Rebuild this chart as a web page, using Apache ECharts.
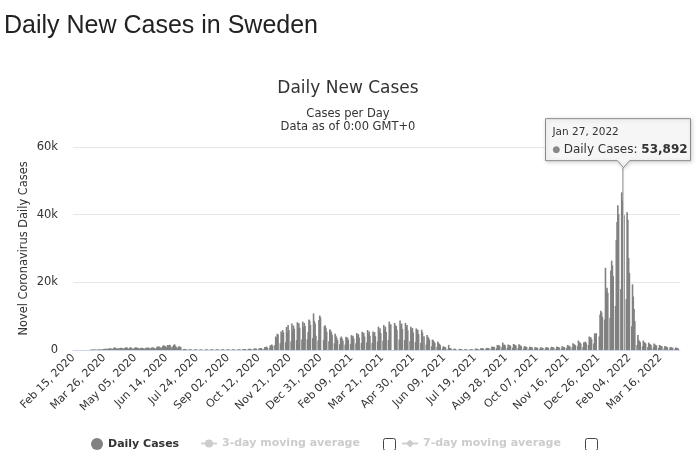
<!DOCTYPE html>
<html>
<head>
<meta charset="utf-8">
<script src="https://cdn.jsdelivr.net/npm/echarts@6/dist/echarts.min.js"></script>
<style>
html,body{margin:0;padding:0;background:#fff;}
#c{width:696px;height:450px;}
</style>
</head>
<body>
<div id="c"></div>
<script>
// Daily new cases, one row per week, each row = [Sat, Sun, Mon, Tue, Wed, Thu, Fri]
// first row starts Saturday Feb 15, 2020
const weeksStarting2020 = [
  [0,0,0,0,0,0,0],
  [0,0,0,0,1,1,5],
  [0,2,1,1,15,11,17],
  [25,66,42,45,123,181,120],
  [64,115,56,98,81,148,170],
  [160,100,106,224,308,290,366],
  [390,278,328,401,426,511,370],
  [450,312,376,487,726,722,544],
  [466,332,465,497,482,613,676],
  [606,392,386,544,680,751,812],
  [610,401,286,695,790,681,428],
  [404,235,562,705,790,676,642],
  [603,292,373,602,685,625,562],
  [460,286,449,658,637,644,774],
  [572,401,339,638,778,541,737],
  [493,326,475,773,1074,893,1056],
  [878,442,590,909,1239,1379,1211],
  [1144,577,821,1474,1239,1441,1540],
  [1034,452,686,1108,1481,1698,1235],
  [932,329,522,1018,926,1017,888],
  [0,0,180,280,320,260,220],
  [0,0,90,210,180,160,150],
  [0,0,70,160,150,130,120],
  [0,0,60,140,150,120,110],
  [0,0,60,150,160,140,130],
  [0,0,70,170,160,150,140],
  [0,0,70,160,150,170,140],
  [0,0,60,150,140,160,130],
  [0,0,60,140,130,150,120],
  [0,0,60,150,140,160,130],
  [0,0,70,170,160,180,150],
  [0,0,120,300,280,320,260],
  [0,0,140,350,330,380,300],
  [0,0,170,420,400,450,380],
  [0,0,220,550,500,600,480],
  [0,0,360,900,850,1000,800],
  [0,0,560,1400,1300,1600,1200],
  [0,0,1500,4000,3600,4800,4600],
  [0,0,2000,5500,4400,5900,5200],
  [0,0,2300,6800,5200,7400,5900],
  [0,0,2600,7800,5800,7200,6300],
  [0,0,2900,8200,6400,7900,6600],
  [0,0,3100,8400,6800,8000,7100],
  [0,0,3200,5300,9000,8700,7400],
  [0,0,3500,10800,8600,7800,4200],
  [0,0,2800,8900,10200,9600,0]
];
const weeksStarting2021 = [
  [0,0,3000,7000,7300,6600,5400],
  [0,0,2600,6100,5800,5300,4500],
  [0,0,2000,4800,4200,3600,2900],
  [0,0,1700,3600,4000,3300,2700],
  [0,0,1600,3900,3500,3700,3000],
  [0,0,1800,4400,3900,4200,3400],
  [0,0,2000,5000,4300,4700,3700],
  [0,0,2100,5400,4600,5100,4000],
  [0,0,2200,5900,4800,5500,4200],
  [0,0,2100,5500,4700,5300,4100],
  [0,0,2500,6900,5600,6400,5000],
  [0,0,2700,7400,6100,6900,5300],
  [0,0,3000,8400,6600,7600,0],
  [0,0,0,8000,7300,7100,6000],
  [0,0,3100,8700,7200,7800,6200],
  [0,0,2900,8000,6800,7400,5800],
  [0,0,2600,6900,6100,6500,5200],
  [0,0,2400,6400,5600,6000,4700],
  [0,0,2100,6000,5200,0,4100],
  [0,0,1600,4400,3900,3600,3000],
  [0,0,1100,3100,2800,2500,2100],
  [0,0,900,2500,2000,1800,1400],
  [0,0,450,1100,950,850,700],
  [0,0,250,1500,600,550,450],
  [0,0,150,400,350,300,0],
  [0,0,120,350,300,280,250],
  [0,0,80,200,180,170,150],
  [0,0,90,220,200,180,160],
  [0,0,160,420,380,350,300],
  [0,0,240,600,520,480,420],
  [0,0,260,650,560,600,500],
  [0,0,400,1000,900,950,850],
  [0,0,600,1500,1300,1400,1200],
  [0,0,800,2200,1500,1600,1400],
  [0,0,650,1600,1500,1400,1200],
  [0,0,700,1800,1600,1500,1300],
  [0,0,650,1700,1400,1300,1100],
  [0,0,450,1100,1000,950,850],
  [0,0,400,1000,900,850,750],
  [0,0,340,850,750,700,650],
  [0,0,320,800,700,700,600],
  [0,0,340,850,750,700,650],
  [0,0,380,950,850,800,700],
  [0,0,400,1000,900,850,750],
  [0,0,440,1100,950,900,800],
  [0,0,600,1500,1300,1200,1000],
  [0,0,800,2000,1700,1600,1400],
  [0,0,1100,2800,2300,2200,1900],
  [0,0,900,2300,2200,2500,2000],
  [0,0,1500,4000,3500,3800,3200],
  [0,0,1900,4900,4600,5000,0],
  [0,0,4000,10500,11600,11100,9800]
];
const weeksStarting2022 = [
  [0,0,9000,24300,17600,18400,16900],
  [0,0,9500,23500,26400,25000,21800],
  [0,0,13000,32500,37800,42800,40100],
  [0,0,18000,46600,44200,53892,39800],
  [0,0,15000,40700,38500,27200,22800],
  [0,0,7000,19400,15800,12100,8600],
  [0,0,1500,4400,3000,2600,2300],
  [0,0,1100,2800,2300,2200,1900],
  [0,0,900,2200,1800,1700,1500],
  [0,0,750,1900,1600,1500,1300],
  [0,0,600,1500,1300,1200,1100],
  [0,0,480,1200,1000,950,850],
  [0,0,360,900,800,750,650],
  [0,0,300,750,650,600,550],
  [0,0]
];
const yTickValues = [0, 20000, 40000, 60000];
const tooltipDate = 'Jan 27, 2022';
const legendNames = ['Daily Cases', '3-day moving average', '7-day moving average'];

const dailyCases = [].concat(...weeksStarting2020, ...weeksStarting2021, ...weeksStarting2022);

const MONTHS = ['Jan','Feb','Mar','Apr','May','Jun','Jul','Aug','Sep','Oct','Nov','Dec'];
const categories = [];
(function(){
  const d = new Date(Date.UTC(2020, 1, 15));
  for (let i = 0; i < dailyCases.length; i++) {
    categories.push(MONTHS[d.getUTCMonth()] + ' ' + String(d.getUTCDate()).padStart(2,'0') + ', ' + d.getUTCFullYear());
    d.setUTCDate(d.getUTCDate() + 1);
  }
})();

const FONT = "'DejaVu Sans', sans-serif";
const GRID = {left: 73, right: 16, top: 147, bottom: 100};

const chart = echarts.init(document.getElementById('c'), null, {renderer: 'canvas'});
const option = {
  animation: false,
  backgroundColor: '#ffffff',
  title: [
    {text: 'Daily New Cases in Sweden', left: 4, top: 14, padding: 0,
     textStyle: {fontFamily: "'Liberation Sans', Arial, sans-serif", fontSize: 25, fontWeight: 'normal', color: '#222'}},
    {text: 'Daily New Cases', left: 'center', top: 80, padding: 0,
     textStyle: {fontFamily: FONT, fontSize: 17, fontWeight: 'normal', color: '#333'}},
    {text: 'Cases per Day', left: 'center', top: 108, padding: 0,
     textStyle: {fontFamily: FONT, fontSize: 11.5, fontWeight: 'normal', color: '#333'}},
    {text: 'Data as of 0:00 GMT+0', left: 'center', top: 121.5, padding: 0,
     textStyle: {fontFamily: FONT, fontSize: 11.5, fontWeight: 'normal', color: '#333'}}
  ],
  legend: [
    {data: [{name: legendNames[0], icon: 'circle'}], left: 91, top: 438, padding: 0,
     itemWidth: 12, itemHeight: 12, selectedMode: false,
     textStyle: {fontFamily: FONT, fontSize: 11, fontWeight: 'bold', color: '#333'}},
    {data: [legendNames[1]], left: 200, top: 438, padding: 0, itemWidth: 16, itemHeight: 10,
     inactiveColor: '#ccc', inactiveBorderColor: '#ccc',
     selected: {'3-day moving average': false, '7-day moving average': false},
     textStyle: {fontFamily: FONT, fontSize: 11, fontWeight: 'bold', color: '#333'}},
    {data: [legendNames[2]], left: 401, top: 438, padding: 0, itemWidth: 16, itemHeight: 10,
     inactiveColor: '#ccc', inactiveBorderColor: '#ccc',
     selected: {'3-day moving average': false, '7-day moving average': false},
     textStyle: {fontFamily: FONT, fontSize: 11, fontWeight: 'bold', color: '#333'}}
  ],
  grid: Object.assign({containLabel: false, outerBoundsMode: 'none'}, GRID),
  xAxis: {
    type: 'category',
    data: categories,
    boundaryGap: true,
    axisLine: {show: true, lineStyle: {color: '#ccd6eb', width: 1}},
    axisTick: {show: false},
    axisLabel: {interval: 39, rotate: 45, margin: 6, fontFamily: FONT, fontSize: 11, color: '#333'},
    splitLine: {show: false}
  },
  yAxis: {
    type: 'value',
    min: yTickValues[0],
    max: yTickValues[yTickValues.length - 1],
    interval: yTickValues[1] - yTickValues[0],
    name: 'Novel Coronavirus Daily Cases',
    nameLocation: 'middle',
    nameGap: 43,
    nameMoveOverlap: false,
    nameTextStyle: {fontFamily: FONT, fontSize: 11.4, color: '#333'},
    axisLine: {show: false},
    axisTick: {show: false},
    axisLabel: {margin: 15, fontFamily: FONT, fontSize: 11.5, color: '#333',
      formatter: v => v === 0 ? '0' : (v / 1000) + 'k'},
    splitLine: {show: true, lineStyle: {color: '#e6e6e6', width: 1}}
  },
  series: [
    {name: legendNames[0], type: 'bar', data: dailyCases, barWidth: 1.6,
     itemStyle: {color: '#818181'}, silent: true, emphasis: {disabled: true}},
    {name: legendNames[1], type: 'line', data: [], symbol: 'circle', symbolSize: 6,
     itemStyle: {color: '#999'}, lineStyle: {color: '#999'}},
    {name: legendNames[2], type: 'line', data: [], symbol: 'diamond', symbolSize: 7,
     itemStyle: {color: '#999'}, lineStyle: {color: '#999'}}
  ]
};
chart.setOption(option);

// tooltip annotation anchored on the bar for tooltipDate
const idx = categories.indexOf(tooltipDate);
const val = dailyCases[idx];
const p = chart.convertToPixel({gridIndex: 0}, [idx, val]);
const tx = Math.round(p[0]) + 0.5;
const ty = p[1];
const L = tx - 78, R = tx + 67, T = ty - 49, B = ty - 7;
const plotTop = GRID.top, plotBottom = 450 - GRID.bottom;

chart.setOption({
  graphic: [
    {type: 'line', z: 100, shape: {x1: tx, y1: plotTop, x2: tx, y2: plotBottom},
     style: {stroke: '#cccccc', lineWidth: 1}},
    {type: 'polygon', z: 101,
     shape: {points: [[L, T], [R, T], [R, B], [tx + 6, B], [tx, ty], [tx - 6, B], [L, B]]},
     style: {fill: 'rgba(247,247,247,0.96)', stroke: '#8a8a8a', lineWidth: 1,
       shadowBlur: 4, shadowOffsetX: 1, shadowOffsetY: 1, shadowColor: 'rgba(0,0,0,0.18)'}},
    {type: 'text', z: 102, x: L + 7, y: T + 14,
     style: {text: tooltipDate, fontFamily: FONT, fontSize: 10.5, fill: '#333', verticalAlign: 'middle'}},
    {type: 'text', z: 102, x: L + 7, y: T + 31,
     style: {
       text: '{a|●} {b|' + legendNames[0] + ': }{c|' + val.toLocaleString('en-US') + '}',
       verticalAlign: 'middle',
       rich: {
         a: {fontFamily: FONT, fontSize: 9, fill: '#888'},
         b: {fontFamily: FONT, fontSize: 12, fill: '#333'},
         c: {fontFamily: FONT, fontSize: 12, fontWeight: 'bold', fill: '#333'}
       }
     }},
    {type: 'rect', z: 100, shape: {x: 383.5, y: 438.5, width: 12, height: 12, r: 2},
     style: {fill: '#fff', stroke: '#444', lineWidth: 1}},
    {type: 'rect', z: 100, shape: {x: 585.5, y: 438.5, width: 12, height: 12, r: 2},
     style: {fill: '#fff', stroke: '#444', lineWidth: 1}}
  ]
});
</script>
</body>
</html>
